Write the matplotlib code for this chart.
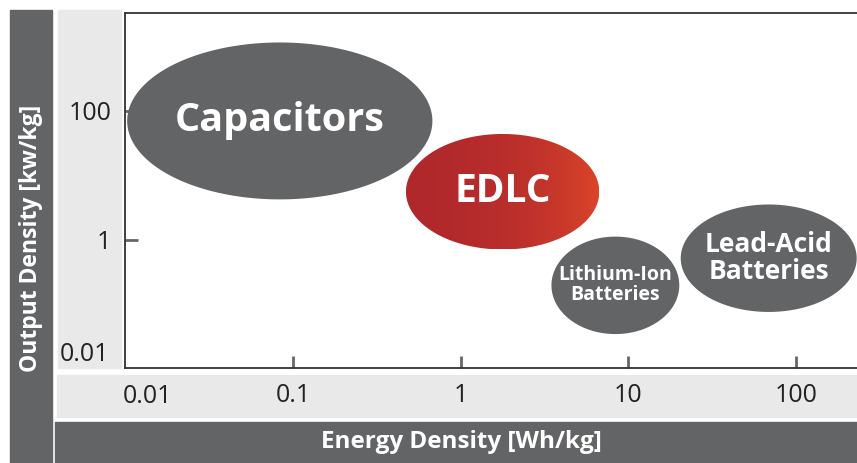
import numpy as np
import matplotlib
matplotlib.use("Agg")
import matplotlib.pyplot as plt
from matplotlib.patches import Rectangle, Polygon
from matplotlib.colors import LinearSegmentedColormap

# energy density range [Wh/kg] and output density range [kW/kg] of each device
names = ["Capacitors", "EDLC", "Lithium-Ion\nBatteries", "Lead-Acid\nBatteries"]
energy_min = [0.0102, 0.47, 3.47, 20.5]
energy_max = [0.676, 6.7, 20.1, 230]
power_min = [4.2, 0.70, 0.034, 0.075]
power_max = [1150, 43.6, 1.11, 3.5]

x_ticks = [0.1, 1, 10, 100]
x_tick_labels = ["0.1", "1", "10", "100"]
y_ticks = [1, 100]
y_tick_labels = ["1", "100"]

W, H = 857, 463
dark = "#636466"
light = "#e8e9e8"
font = "Open Sans"
tick_size = 18

fig = plt.figure(figsize=(W / 100, H / 100), dpi=100)


def box(x0, y0, x1, y1, color):
    # rectangle given in pixel coords (origin top-left)
    fig.patches.append(Rectangle((x0 / W, 1 - y1 / H), (x1 - x0) / W, (y1 - y0) / H,
                                 transform=fig.transFigure, color=color, zorder=-5))


box(10, 10, 52, 463, dark)
box(55, 422, 857, 463, dark)
box(58, 10, 121, 368, light)
box(57, 375, 857, 417, light)

ax = fig.add_axes([125 / W, 1 - 368 / H, 1 - 125 / W, (368 - 13) / H])
ax.set_xscale("log")
ax.set_yscale("log")

for s in ["left", "bottom", "top"]:
    ax.spines[s].set_color("#333333")
    ax.spines[s].set_linewidth(1.3)
ax.spines["right"].set_visible(False)

ax.set_xticks(x_ticks, x_tick_labels)
ax.set_yticks(y_ticks, y_tick_labels)
ax.minorticks_off()
ax.tick_params(axis="both", direction="in", length=9, width=2, color="#666666",
               labelsize=tick_size, labelcolor="#222222")
ax.tick_params(axis="x", pad=11)
ax.tick_params(axis="y", pad=10)
for lab in ax.get_xticklabels() + ax.get_yticklabels():
    lab.set_fontfamily(font)

# the 0.01 labels sit inside the strips, off the corner
ax.text(0.0134, -0.079, "0.01", transform=ax.get_xaxis_transform(), ha="center", va="center",
        fontsize=tick_size, color="#222222", fontfamily=font)
ax.text(-0.021, 0.037, "0.01", transform=ax.transAxes, ha="right", va="center",
        fontsize=tick_size, color="#222222", fontfamily=font)

t = np.linspace(0, 2 * np.pi, 400)
text_sizes = [28.5, 28, 14, 19]
for i, name in enumerate(names):
    lx0, lx1 = np.log10(energy_min[i]), np.log10(energy_max[i])
    ly0, ly1 = np.log10(power_min[i]), np.log10(power_max[i])
    cx, cy = (lx0 + lx1) / 2, (ly0 + ly1) / 2
    xs = 10 ** (cx + (lx1 - lx0) / 2 * np.cos(t))
    ys = 10 ** (cy + (ly1 - ly0) / 2 * np.sin(t))
    if name == "EDLC":
        poly = Polygon(np.column_stack([xs, ys]), closed=True, facecolor="none",
                       edgecolor="none", transform=ax.transData)
        ax.add_patch(poly)
        cmap = LinearSegmentedColormap.from_list("edlc", ["#b0282d", "#dd4528"])
        grad = np.linspace(0, 1, 256).reshape(1, -1)
        im = ax.imshow(grad, cmap=cmap, aspect="auto", interpolation="bilinear",
                       extent=(energy_min[i], energy_max[i], power_min[i], power_max[i]),
                       zorder=2)
        im.set_clip_path(poly)
    else:
        ax.fill(xs, ys, color=dark, zorder=2, lw=0)
    ax.text(10 ** cx, 10 ** cy, name, ha="center", va="center", color="white",
            fontsize=text_sizes[i], fontweight="bold", fontfamily=font,
            linespacing=1.0, zorder=3)

ax.set_xlim(0.0099, 231)
ax.set_ylim(0.0101, 3300)

fig.text(31 / W, 1 - 238 / H, "Output Density [kw/kg]", rotation=90, ha="center", va="center",
         color="white", fontsize=16.5, fontweight="bold", fontfamily=font)
fig.text(461 / W, 1 - 442 / H, "Energy Density [Wh/kg]", ha="center", va="center",
         color="white", fontsize=17.5, fontweight="bold", fontfamily=font)

fig.savefig("out.png", dpi=100)
